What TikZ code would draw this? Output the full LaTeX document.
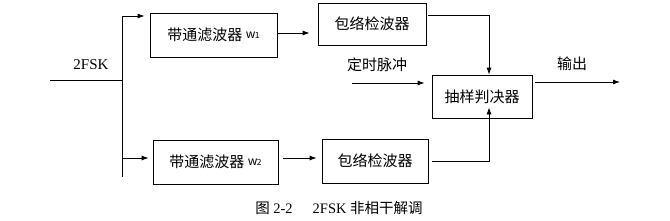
\documentclass[tikz,border=0pt]{standalone}
\usepackage{fontspec}
\setmainfont{Liberation Serif}
\newfontfamily\cjk{Noto Sans CJK SC}
\usepackage{tikz}
\usetikzlibrary{arrows.meta,positioning,calc}
\newcommand{\fsub}[1]{\raisebox{2pt}{\fontsize{12}{12}\selectfont\textit{w}\kern-0.5pt\fontsize{8.5}{9}\selectfont#1}}
\tikzset{
  blockBox/.style={draw, line width=0.8pt, minimum height=44pt, inner sep=0pt, font=\cjk\fontsize{15}{17}\selectfont},
  sigArrow/.style={-{Latex[length=7pt,width=5pt]}, line width=0.8pt},
  sigLine/.style={line width=0.8pt},
  sigLabel/.style={font=\cjk\fontsize{15}{17}\selectfont}
}
\begin{document}
\begin{tikzpicture}[x=1pt,y=-1pt]
  \useasboundingbox (0,0) rectangle (670,220);
  \node[blockBox, minimum width=127pt] (bpfA) at (213.5,35) {带通滤波器 \fsub{1}};
  \node[blockBox, minimum width=125pt] (bpfB) at (215.5,162) {带通滤波器 \fsub{2}};
  \node[blockBox, minimum width=108pt, minimum height=42pt] (envA) at (372,24) {包络检波器};
  \node[blockBox, minimum width=106pt] (envB) at (375,161) {包络检波器};
  \node[blockBox, minimum width=100pt, minimum height=43pt] (dec) at (482,96.5) {抽样判决器};

  \coordinate (in) at (50,80);
  \coordinate (split) at (122,80);
  \coordinate (splitA) at (122,16);
  \coordinate (splitB) at (122,177);
  \coordinate (clk) at (352,83);
  \coordinate (out) at (620,82);

  \node[font=\fontsize{15}{17}\selectfont] (fsk) at (91,65) {2FSK};
  \node[sigLabel] (clkLab) at (377,65) {定时脉冲};
  \node[sigLabel] (outLab) at (572,64) {输出};

  \draw[sigLine] (in) -- (split);
  \draw[sigLine] (splitA) -- (splitB);
  \draw[sigArrow, shorten >=5pt] (splitA) -- (splitA -| bpfA.west);
  \draw[sigArrow, shorten >=4pt] (122,158) -- (bpfB.west |- 0,158);
  \draw[sigArrow, shorten >=8pt] (bpfA.east |- 0,33) -- (envA.west |- 0,33);
  \draw[sigArrow, shorten <=5pt, shorten >=5pt] (bpfB.east |- 0,158) -- (envB.west |- 0,158);
  \draw[sigArrow, shorten <=2pt] ([yshift=9pt]envA.east) -| ([xshift=7pt]dec.north);
  \draw[sigArrow, shorten <=4pt, shorten >=-11pt] (envB.east) -| ([xshift=7pt]dec.south);
  \draw[sigArrow, shorten >=7pt] (clk) -- (clk -| dec.west);
  \draw[sigArrow, shorten <=3pt] (dec.east |- out) -- (out);

  \node[font=\fontsize{14.5}{16}\selectfont] (cap) at (339,208) {{\cjk 图} 2-2\hspace{20pt}2FSK {\cjk 非相干解调}};
\end{tikzpicture}
\end{document}
